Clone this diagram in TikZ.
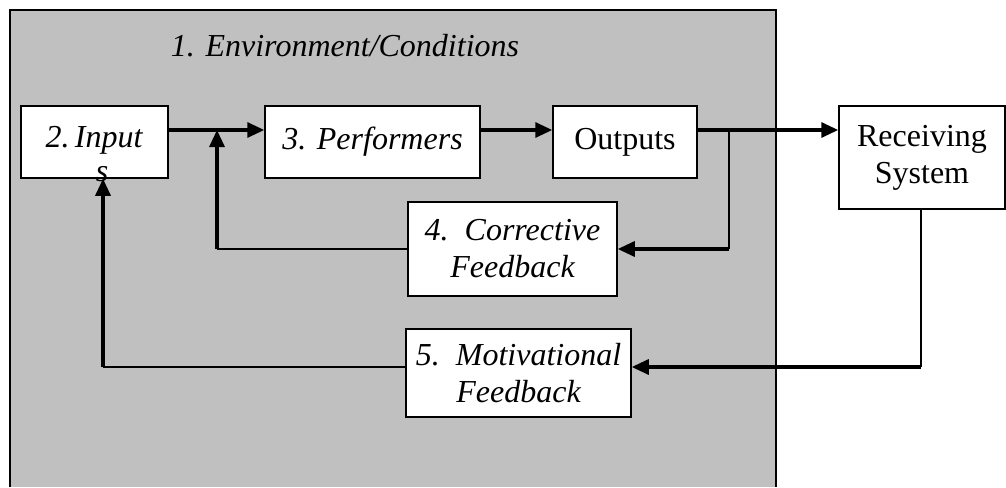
\documentclass[tikz,border=0pt]{standalone}
\usepackage{fontspec}
\setmainfont{Liberation Serif}
\usetikzlibrary{arrows.meta}
\definecolor{envgray}{RGB}{192,192,192}
\newcommand{\bigfs}{\fontsize{32}{37}\selectfont}
\begin{document}
\begin{tikzpicture}[x=1pt,y=-1pt,
  box/.style={draw=black,line width=1.5pt,fill=white,inner sep=0pt,font=\bigfs,align=center},
  arr/.style={line width=3.2pt,-{Triangle[length=17pt,width=15pt]}},
  thin/.style={line width=2pt}]
\useasboundingbox (0,0) rectangle (1006,487);
% environment
\fill[envgray] (10,10) rectangle (776,487);
\draw[line width=2pt] (10,487) -- (10,10) -- (776,10) -- (776,487);
\node (env) at (345,46) {\bigfs\itshape 1. Environment/Conditions};
% boxes
\node[box,minimum width=147pt,minimum height=72pt] (inp) at (94.5,142) {};
\node (inptxt) at (94,140) {\bigfs\itshape 2.\,Input};
\node[inner sep=0pt] (inps) at (102,174) {\bigfs\itshape s};
\node[box,minimum width=215pt,minimum height=72pt,font=\bigfs\itshape] (perf) at (372.5,142) {3. Performers};
\node[box,minimum width=144pt,minimum height=72pt] (out) at (625,142) {Outputs};
\node[box,minimum width=166pt,minimum height=103pt] (recv) at (922,157.5) {Receiving\\System};
\node[box,minimum width=209pt,minimum height=94pt,font=\bigfs\itshape] (corr) at (512.5,249) {4.\ \ Corrective\\Feedback};
\node[box,minimum width=225pt,minimum height=88pt,font=\bigfs\itshape] (mot) at (518.5,373) {5.\ \ Motivational\\Feedback};
% junction coordinates
\coordinate (j1) at (217,130);
\coordinate (j2) at (729,130);
\coordinate (c1) at (217,249);
\coordinate (c2) at (729,249);
\coordinate (m1) at (921,367);
\coordinate (m2) at (103,367);
% forward flow
\draw[arr] (inp.east |- j1) -- (perf.west |- j1);
\draw[arr] (perf.east |- j1) -- (out.west |- j1);
\draw[arr] (out.east |- j1) -- (recv.west |- j1);
% corrective loop
\draw[thin] (j2) -- (c2);
\draw[arr] (c2) -- (corr.east |- c2);
\draw[thin] (corr.west |- c1) -- (c1);
\draw[arr] (c1) -- (j1);
% motivational loop
\draw[thin] (recv.south -| m1) -- (m1);
\draw[arr] (m1) -- (mot.east |- m1);
\draw[thin] (mot.west |- m2) -- (m2);
\draw[arr] (m2) -- (inp.south -| m2);
\end{tikzpicture}
\end{document}
